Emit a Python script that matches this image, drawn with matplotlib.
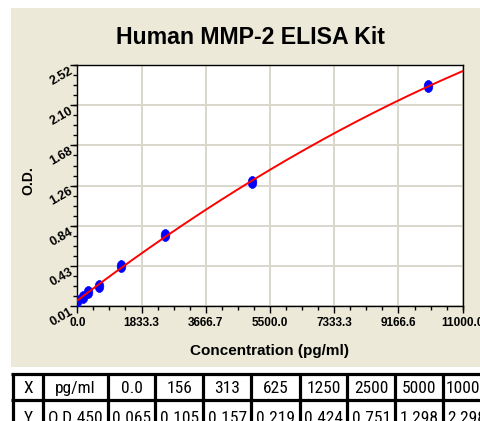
import numpy as np
import matplotlib
matplotlib.use("Agg")
import matplotlib.pyplot as plt
from matplotlib.patches import Rectangle
from matplotlib.ticker import FixedLocator, AutoMinorLocator
from matplotlib import font_manager
from matplotlib.font_manager import FontProperties
from matplotlib.path import Path
from matplotlib.transforms import Affine2D

# ---------------- data ----------------
title = "Human MMP-2 ELISA Kit"
conc = [0, 156, 313, 625, 1250, 2500, 5000, 10000]
od = [0.065, 0.105, 0.157, 0.219, 0.424, 0.751, 1.298, 2.298]

x_ticks = [0.0, 1833.3, 3666.7, 5500.0, 7333.3, 9166.6, 11000.0]
x_tick_labels = ["0.0", "1833.3", "3666.7", "5500.0", "7333.3", "9166.6", "11000.0"]
y_ticks = [0.01, 0.428, 0.847, 1.265, 1.683, 2.102, 2.52]
y_tick_labels = ["0.01", "0.43", "0.84", "1.26", "1.68", "2.10", "2.52"]

table_row_x = ["X", "pg/ml", "0.0", "156", "313", "625", "1250", "2500", "5000", "10000"]
table_row_y = ["Y", "O.D.450", "0.065", "0.105", "0.157", "0.219", "0.424", "0.751", "1.298", "2.298"]

x_label = "Concentration (pg/ml)"
y_label = "O.D."

# ---------------- fonts ----------------
ttf = font_manager.fontManager.ttflist
names = {f.name for f in ttf}
main_font = "Liberation Sans" if "Liberation Sans" in names else "DejaVu Sans"
plt.rcParams["font.family"] = [main_font, "DejaVu Sans"]

table_fp = None
for fam, size in (("Liberation Sans Narrow", 12.5), ("Arial Narrow", 12.5),
                  ("Roboto Condensed", 12.5), ("Archivo Narrow", 12.5),
                  ("Asap Condensed", 12.5)):
    if fam in names:
        table_fp = FontProperties(family=fam, size=size)
        break
if table_fp is None:
    table_fp = FontProperties(family=main_font, size=10.5)

W, H = 480, 421
fig = plt.figure(figsize=(W / 100, H / 100), dpi=100)
fig.patch.set_facecolor("white")

def fx(px):
    return px / W

def fy(py):
    return 1 - py / H

# beige panel
fig.add_artist(Rectangle((fx(11), fy(367)), fx(480) - fx(11), fy(8) - fy(367),
                         transform=fig.transFigure, facecolor="#ECE9D8",
                         edgecolor="none", zorder=0))

ax = fig.add_axes([fx(77.3), fy(306), fx(462.7) - fx(77.3), fy(65) - fy(306)])
ax.set_facecolor("white")
ax.set_xlim(0, 11000)
ax.set_ylim(0.01, 2.52)

# slightly tall elliptical markers (drawn below the fitted curve)
ellipse = Path.unit_circle().transformed(Affine2D().scale(0.72, 1.0))
ax.plot(conc, od, linestyle="none", marker=ellipse, color="blue", ms=8.6,
        mec="blue", mew=0.5, zorder=3)

# fitted curve (quadratic least squares of the standard points)
coef = np.polyfit(conc, od, 2)
xs = np.linspace(0, 11000, 400)
ax.plot(xs, np.polyval(coef, xs), color="red", lw=1.4, zorder=4)

ax.xaxis.set_major_locator(FixedLocator(x_ticks))
ax.yaxis.set_major_locator(FixedLocator(y_ticks))
ax.set_xticklabels(x_tick_labels)
ax.set_yticklabels(y_tick_labels)
ax.xaxis.set_minor_locator(AutoMinorLocator(4))
ax.yaxis.set_minor_locator(AutoMinorLocator(4))
ax.grid(True, which="major", color="#D9D6CC", lw=1.4, zorder=0)
ax.set_axisbelow(True)
ax.tick_params(which="major", direction="out", length=5, width=1, color="black")
ax.tick_params(which="minor", direction="out", length=3, width=1, color="black")
ax.tick_params(axis="x", pad=3, labelsize=8.5)
ax.tick_params(axis="y", pad=1, labelsize=9)
for lab in ax.get_xticklabels():
    lab.set_fontweight("bold")
for lab in ax.get_yticklabels():
    lab.set_fontweight("bold")
    lab.set_rotation(30)
    lab.set_rotation_mode("anchor")
    lab.set_ha("right")
    lab.set_va("top")
for s in ax.spines.values():
    s.set_linewidth(1)
    s.set_color("black")

fig.text(fx(250), fy(37), title, ha="center", va="center", fontsize=16.7, fontweight="bold")
fig.text(fx(269.5), fy(351), x_label, ha="center", va="center", fontsize=11, fontweight="bold")
fig.text(fx(28), fy(181), y_label, ha="center", va="center", fontsize=10,
         fontweight="bold", rotation=90)

# ---------------- table ----------------
tax = fig.add_axes([0, 0, 1, 1], zorder=5)
tax.set_xlim(0, W)
tax.set_ylim(H, 0)
tax.axis("off")
col_edges = [12.5, 43.3, 107.7, 155.3, 203.3, 251.3, 299.7, 347.3, 395.3, 443.0, 491.0]
row_top, row_mid = 374.3, 400.0
tax.add_patch(Rectangle((12.5, row_top), 480, 60, facecolor="white", edgecolor="none"))
for y in (row_top, row_mid):
    tax.plot([col_edges[0] - 1.5, W + 5], [y, y], color="black", lw=2.3,
             solid_capstyle="butt", clip_on=False)
for x in col_edges:
    tax.plot([x, x], [row_top - 1.5, H + 5], color="black", lw=2.3,
             solid_capstyle="butt", clip_on=False)
for i, (tx, ty) in enumerate(zip(table_row_x, table_row_y)):
    cx = (col_edges[i] + col_edges[i + 1]) / 2
    tax.text(cx, 393.3, tx, ha="center", va="baseline", fontproperties=table_fp)
    tax.text(cx, 422.7, ty, ha="center", va="baseline", fontproperties=table_fp)

fig.savefig("out.png", dpi=100)
